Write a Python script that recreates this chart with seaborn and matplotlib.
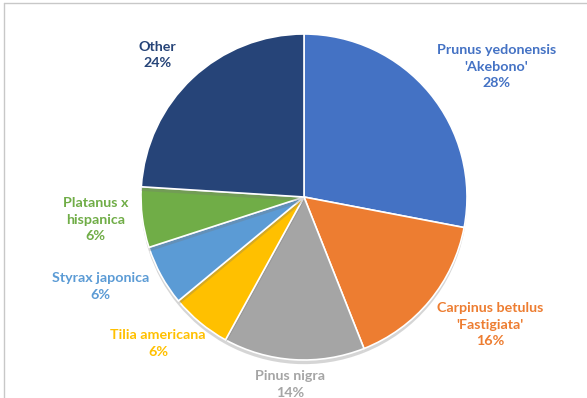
import matplotlib
matplotlib.use("Agg")
import matplotlib.pyplot as plt
import matplotlib.patheffects as pe
from matplotlib.lines import Line2D
import seaborn as sns

# Tree species share
species = ["Prunus yedonensis\n'Akebono'", "Carpinus betulus\n'Fastigiata'", "Pinus nigra",
           "Tilia americana", "Styrax japonica", "Platanus x\nhispanica", "Other"]
shares = [28, 16, 14, 6, 6, 6, 24]
colors = ["#4472C4", "#ED7D31", "#A5A5A5", "#FFC000", "#5B9BD5", "#70AD47", "#264478"]

# Label block centres, in units of the pie radius
label_pos = [(1.18, 0.80), (1.14, -0.785), (-0.086, -1.15), (-0.896, -0.90),
             (-1.25, -0.55), (-1.28, -0.14), (-0.90, 0.87)]

sns.set_theme(style="white")
plt.rcParams["font.family"] = ["Lato", "DejaVu Sans"]
palette = sns.color_palette(colors)

W, H, DPI = 587, 398, 100
fig = plt.figure(figsize=(W / DPI, H / DPI), dpi=DPI)
fig.patch.set_facecolor("white")
ax = fig.add_axes([0, 0, 1, 1])

R = 163.0
cx, cy = 304.0, H - 197.0
wedges, _ = ax.pie(shares, colors=palette, startangle=90, counterclock=False, radius=1,
                   wedgeprops=dict(edgecolor="white", linewidth=1.2))
for w in wedges:
    w.set_path_effects([pe.SimplePatchShadow(offset=(0, -3), shadow_rgbFace="#777777", alpha=0.3),
                        pe.Normal()])

ax.set_aspect("auto")
ax.set_xlim(-cx / R, (W - cx) / R)
ax.set_ylim(-cy / R, (H - cy) / R)
ax.axis("off")

for name, val, col, (lx, ly) in zip(species, shares, colors, label_pos):
    ax.text(lx, ly, f"{name}\n{val}%", color=col, ha="center", va="center",
            fontsize=10.3, fontweight="bold", linespacing=1.45)

# Thin frame lines along the top and left edges
fig.add_artist(Line2D([4 / W, 1], [1 - 3 / H, 1 - 3 / H], transform=fig.transFigure,
                      color="#C8C8C8", linewidth=1))
fig.add_artist(Line2D([4 / W, 4 / W], [0, 1 - 3 / H], transform=fig.transFigure,
                      color="#C8C8C8", linewidth=1))

fig.savefig("out.png", dpi=DPI, facecolor="white")
